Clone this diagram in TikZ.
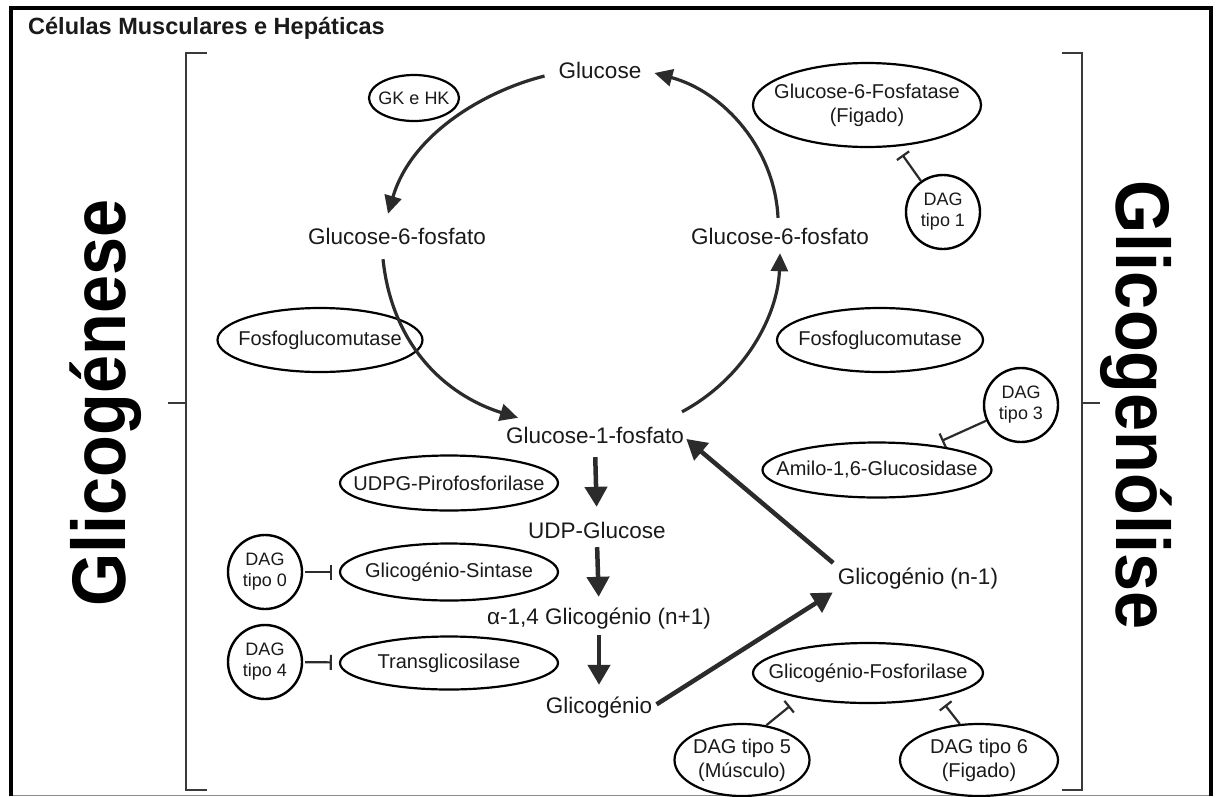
\documentclass[tikz,border=0pt]{standalone}
\usepackage{fontspec}
\setmainfont{Liberation Sans}
\usetikzlibrary{shapes.geometric,arrows.meta}
\definecolor{ink}{HTML}{1A1A1A}
\definecolor{arr}{HTML}{2B2B2B}
\definecolor{brk}{HTML}{3A3A3A}
\begin{document}
\begin{tikzpicture}[x=1pt,y=-1pt,
  lbl/.style={inner sep=0pt, text=ink, font=\fontsize{22.5}{26}\selectfont, text height=17pt, text depth=5pt},
  enz/.style={ellipse, draw=black, line width=2.2pt, inner xsep=-40pt, inner ysep=-12pt, text=ink, font=\fontsize{20}{24}\selectfont, align=center},
  dagc/.style={circle, draw=black, line width=2.4pt, inner sep=0pt, minimum size=74pt, text=ink, font=\fontsize{18}{21}\selectfont, align=center},
  arc/.style={draw=arr, line width=3.2pt, -{Triangle[length=18pt,width=17pt]}},
  big/.style={draw=arr, line width=4.5pt, -{Triangle[length=20pt,width=22pt]}},
  inh/.style={draw=arr, line width=2.2pt, -{Bar[width=15pt]}},
  brack/.style={draw=brk, line width=2.5pt}
]
\useasboundingbox (0,0) rectangle (1216,796);
\fill[white] (0,0) rectangle (1216,796);
% frame
\draw[black!45, line width=1pt] (11,795) -- (1211,795);
\draw[black, line width=4pt] (11,796) -- (11,8) -- (1211,8) -- (1211,796);
% title
\node[anchor=west, inner sep=0pt, text=ink, font=\fontsize{23.5}{28}\selectfont\bfseries] (title) at (28,28) {Células Musculares e Hepáticas};
% brackets
\draw[brack] (207,53) -- (186,53) -- (186,790) -- (207,790);
\draw[brack] (168,403) -- (186,403);
\draw[brack] (1062,53) -- (1082,53) -- (1082,790) -- (1062,790);
\draw[brack] (1082,403) -- (1100,403);
% side titles
\node[rotate=90, inner sep=0pt, text=black, font=\fontsize{76}{80}\selectfont\bfseries] (gese) at (106,403) {\scalebox{0.9}[1]{Glicogénese}};
\node[rotate=-90, inner sep=0pt, text=black, font=\fontsize{76}{80}\selectfont\bfseries] (lise) at (1136,405) {\scalebox{0.9}[1]{Glicogenólise}};
% metabolites
\node[lbl] (glc) at (600,72) {Glucose};
\node[lbl] (g6pl) at (397,238) {Glucose-6-fosfato};
\node[lbl] (g6pr) at (780,238) {Glucose-6-fosfato};
\node[lbl] (g1p) at (595,437) {Glucose-1-fosfato};
\node[lbl] (udpg) at (597,532) {UDP-Glucose};
\node[lbl] (a14) at (599,618) {α-1,4 Glicogénio (n+1)};
\node[lbl] (glic) at (599,707) {Glicogénio};
\node[lbl] (glicn) at (918,578) {Glicogénio (n-1)};
% enzymes
\node[enz, minimum width=90pt, minimum height=46pt, font=\fontsize{18}{22}\selectfont] (gkhk) at (414,98) {GK e HK};
\node[enz, minimum width=228pt, minimum height=84pt] (g6pase) at (867,105) {Glucose-6-Fosfatase\\(Figado)};
\node[enz, minimum width=205pt, minimum height=64pt] (fgml) at (320,340) {Fosfoglucomutase};
\node[enz, minimum width=206pt, minimum height=64pt] (fgmr) at (880,340) {Fosfoglucomutase};
\node[enz, minimum width=229pt, minimum height=55pt] (amilo) at (877,470) {Amilo-1,6-Glucosidase};
\node[enz, minimum width=218pt, minimum height=55pt] (udpgp) at (449,483) {UDPG-Pirofosforilase};
\node[enz, minimum width=218pt, minimum height=57pt] (gsint) at (449,572) {Glicogénio-Sintase};
\node[enz, minimum width=218pt, minimum height=53pt] (transg) at (449,663) {Transglicosilase};
\node[enz, minimum width=230pt, minimum height=60pt] (gfosf) at (868,673) {Glicogénio-Fosforilase};
% DAG
\node[dagc] (dag1) at (943,212) {DAG\\tipo 1};
\node[dagc] (dag3) at (1021,405) {DAG\\tipo 3};
\node[dagc] (dag0) at (265,572) {DAG\\tipo 0};
\node[dagc] (dag4) at (265,662) {DAG\\tipo 4};
\node[enz, minimum width=135pt, minimum height=72pt] (dag5) at (742,760) {DAG tipo 5\\(Músculo)};
\node[enz, minimum width=158pt, minimum height=72pt] (dag6) at (979,760) {DAG tipo 6\\(Figado)};
% inhibitions
\coordinate (i5) at (790,706);
\coordinate (i6) at (945,705);
\draw[inh, shorten >=10pt] (dag1) -- (g6pase);
\draw[inh, shorten >=10pt] (dag3) -- (amilo);
\draw[inh, shorten <=2pt, shorten >=7pt] (dag0) -- (gsint);
\draw[inh, shorten <=2pt, shorten >=7pt] (dag4) -- (transg);
\draw[inh] (dag5.55) -- (i5);
\draw[inh] (dag6.118) -- (i6);
% cycle arcs
\draw[arc] ([xshift=-14pt,yshift=-4pt]glc.west) .. controls (488,90) and (412,132) .. ([xshift=-9pt,yshift=13pt]g6pl.north);
\draw[arc] ([xshift=-14pt,yshift=-10pt]g6pl.south) .. controls (392,345) and (445,395) .. ([xshift=12pt,yshift=8pt]g1p.north west);
\draw[arc] ([xshift=-2pt,yshift=14pt]g1p.north east) .. controls (745,378) and (778,315) .. ([yshift=-4pt]g6pr.south);
\draw[arc] ([xshift=-2pt,yshift=9pt]g6pr.north) .. controls (775,150) and (725,92) .. ([xshift=13pt,yshift=-1pt]glc.east);
% main arrows
\draw[big, shorten <=9pt, shorten >=14pt] (g1p.south) -- (udpg.north);
\draw[big, shorten <=4pt, shorten >=10pt] (udpg.south) -- (a14.north);
\draw[big, shorten <=6pt, shorten >=11pt] (a14.south) -- (glic.north);
\draw[big, shorten <=5pt, shorten >=6pt] (glic.east) -- (glicn.south west);
\draw[big, shorten <=6pt, shorten >=3pt] (glicn.north west) -- (g1p.east);
\end{tikzpicture}
\end{document}
